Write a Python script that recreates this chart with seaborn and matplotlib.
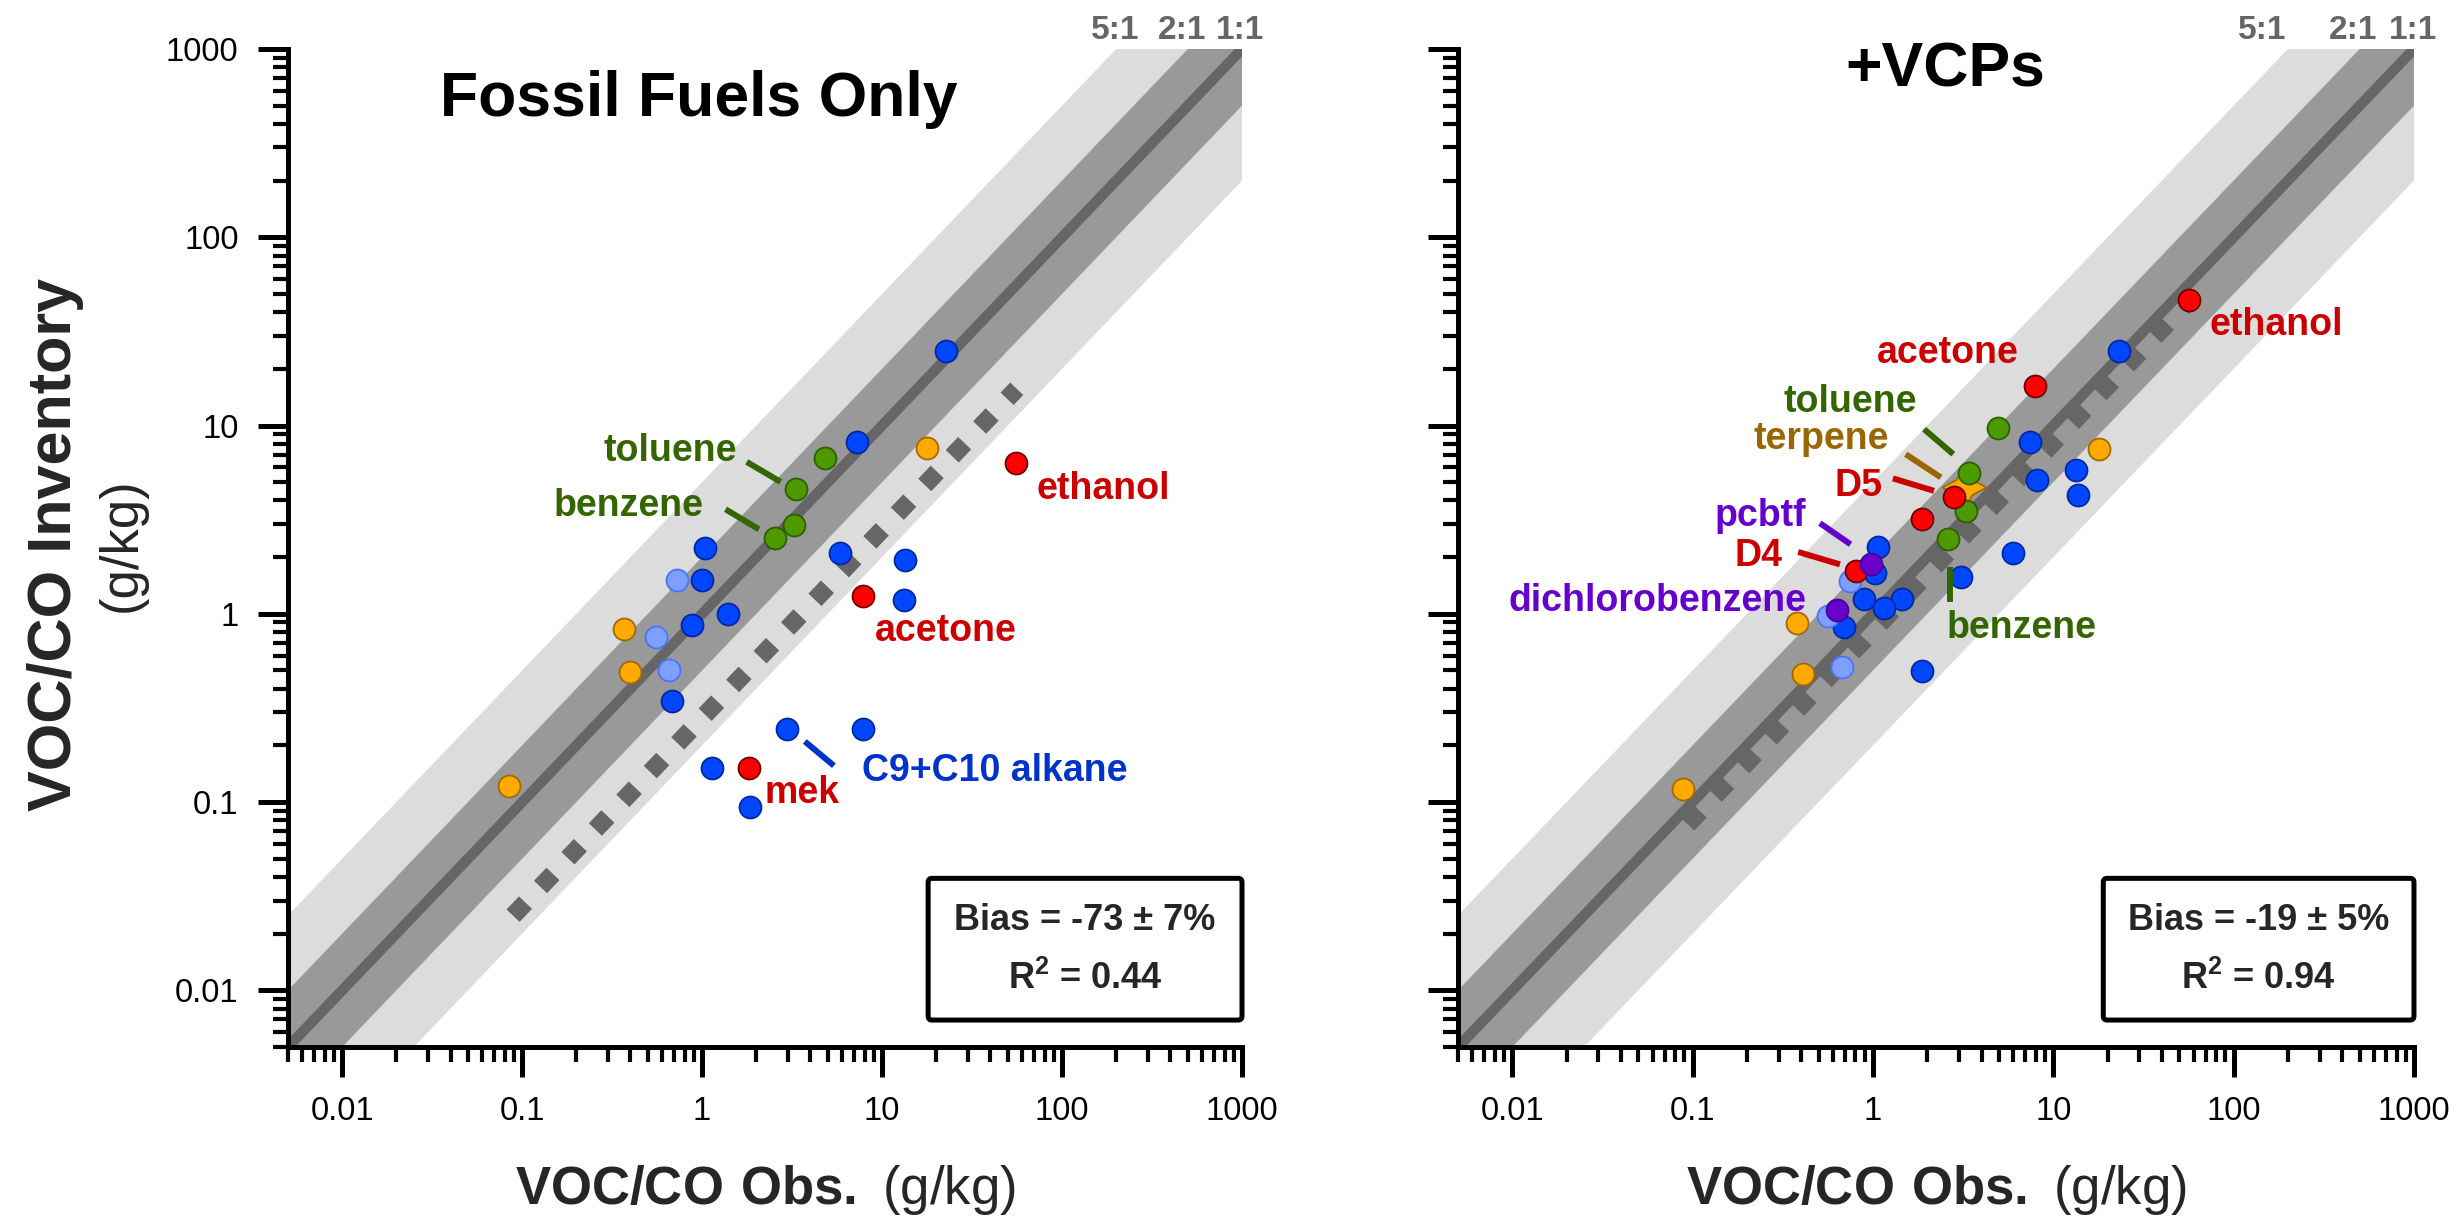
import numpy as np
import pandas as pd
import matplotlib
matplotlib.use("Agg")
import matplotlib.pyplot as plt
import seaborn as sns
from matplotlib.patches import FancyBboxPatch
from matplotlib.ticker import FixedLocator, FixedFormatter, NullFormatter, LogLocator

# ---------------- data: Fossil Fuels Only ----------------
ff_blue_obs = [22.8, 7.27, 1.04, 5.83, 13.4, 0.994, 13.2, 1.40, 0.875, 0.676, 2.98, 7.85, 1.13, 1.84]
ff_blue_inv = [24.9, 8.22, 2.23, 2.10, 1.93, 1.51, 1.18, 0.993, 0.867, 0.343, 0.243, 0.243, 0.152, 0.094]
ff_ltblue_obs = [0.728, 0.553, 0.651]
ff_ltblue_inv = [1.51, 0.755, 0.50]
ff_orange_obs = [17.7, 0.369, 0.397, 0.085]
ff_orange_inv = [7.64, 0.826, 0.49, 0.122]
ff_green_obs = [4.81, 3.32, 3.24, 2.54]
ff_green_inv = [6.71, 4.59, 2.95, 2.54]
ff_red_obs = [55.4, 7.8, 1.82]
ff_red_inv = [6.31, 1.24, 0.152]
ff_fit_slope = 0.28
ff_fit_obs = [0.089, 56.0]

# ---------------- data: +VCPs ----------------
vcp_blue_obs = [23.2, 7.41, 13.4, 13.7, 8.07, 5.94, 1.07, 1.03, 3.07, 0.894, 1.44, 1.15, 0.69, 1.88]
vcp_blue_inv = [24.8, 8.13, 5.82, 4.28, 5.14, 2.11, 2.25, 1.65, 1.57, 1.20, 1.20, 1.07, 0.854, 0.496]
vcp_ltblue_obs = [0.75, 0.565, 0.67]
vcp_ltblue_inv = [1.49, 0.973, 0.521]
vcp_orange_obs = [17.9, 0.377, 0.407, 0.088]
vcp_orange_inv = [7.55, 0.897, 0.48, 0.118]
vcp_green_obs = [4.94, 3.40, 3.30, 2.61]
vcp_green_inv = [9.66, 5.63, 3.52, 2.51]
vcp_red_obs = [56.4, 7.96, 2.81, 1.86, 0.81]
vcp_red_inv = [46.5, 16.3, 4.18, 3.20, 1.69]
vcp_purple_obs = [0.973, 0.628]
vcp_purple_inv = [1.84, 1.05]
vcp_terpene_obs = [3.19]
vcp_terpene_inv = [4.69]
vcp_fit_slope = 0.81
vcp_fit_obs = [0.094, 56.0]

tick_vals = [0.01, 0.1, 1, 10, 100, 1000]
tick_labels = ["0.01", "0.1", "1", "10", "100", "1000"]
ratio_labels = ["5:1", "2:1", "1:1"]

ff_bias = "Bias = -73 \u00b1 7%"
ff_r2 = "0.44"
vcp_bias = "Bias = -19 \u00b1 5%"
vcp_r2 = "0.94"

# ---------------- styles ----------------
fills = {"blue": "#0047ff", "ltblue": "#7f9fff", "orange": "#ffaa00",
         "green": "#4c9a00", "red": "#ff0000", "purple": "#6a00cc", "terpene": "#ffaa00"}
edges = {"blue": "#0028a0", "ltblue": "#4a74ff", "orange": "#a06a00",
         "green": "#2d5e00", "red": "#700000", "purple": "#4a0099", "terpene": "#a06a00"}
C_GREEN = "#336600"
C_RED = "#cc0000"
C_BLUE = "#0033cc"
C_PURPLE = "#6600cc"
C_BROWN = "#996600"

sns.set_theme(style="white")
plt.rcParams["font.family"] = ["Liberation Sans", "DejaVu Sans"]
plt.rcParams["mathtext.fontset"] = "custom"
plt.rcParams["mathtext.rm"] = "Liberation Sans"
plt.rcParams["mathtext.bf"] = "Liberation Sans:bold"
plt.rcParams["axes.edgecolor"] = "black"


def make_df(groups):
    rows = []
    for name, xs, ys in groups:
        for x, y in zip(xs, ys):
            rows.append({"obs": x, "inv": y, "group": name})
    return pd.DataFrame(rows)


ff_df = make_df([("blue", ff_blue_obs, ff_blue_inv), ("ltblue", ff_ltblue_obs, ff_ltblue_inv),
                 ("orange", ff_orange_obs, ff_orange_inv), ("green", ff_green_obs, ff_green_inv),
                 ("red", ff_red_obs, ff_red_inv)])
vcp_df = make_df([("blue", vcp_blue_obs, vcp_blue_inv), ("ltblue", vcp_ltblue_obs, vcp_ltblue_inv),
                  ("orange", vcp_orange_obs, vcp_orange_inv), ("green", vcp_green_obs, vcp_green_inv),
                  ("red", vcp_red_obs, vcp_red_inv), ("purple", vcp_purple_obs, vcp_purple_inv),
                  ("terpene", vcp_terpene_obs, vcp_terpene_inv)])

fig = plt.figure(figsize=(24.58, 12.19), dpi=100)
ax1 = fig.add_axes([0.11717, 0.14110, 0.38812, 0.81870])
ax2 = fig.add_axes([0.59316, 0.14110, 0.38893, 0.81870])


def draw_panel(ax, df, slope, fit_obs, show_ylabels):
    ax.set_xscale("log")
    ax.set_yscale("log")
    xs = np.array([1e-4, 1e4])
    ax.fill_between(xs, xs / 5, xs * 5, color="#dcdcdc", lw=0, zorder=1)
    ax.fill_between(xs, xs / 2, xs * 2, color="#999999", lw=0, zorder=2)
    ax.plot(xs, xs, color="#666666", lw=7.5, zorder=3, solid_capstyle="round")
    fx = np.array(fit_obs)
    ax.plot(fx, slope * fx, color="#666666", lw=13, dashes=(1.0, 1.2),
            dash_capstyle="butt", zorder=4)
    for g in ["blue", "ltblue", "orange", "green", "red", "purple"]:
        sub = df[df["group"] == g]
        if len(sub) == 0:
            continue
        sns.scatterplot(data=sub, x="obs", y="inv", color=fills[g], edgecolor=edges[g],
                        s=250, linewidth=1.3, ax=ax, zorder=6, legend=False)
    sub = df[df["group"] == "terpene"]
    if len(sub):
        sns.scatterplot(data=sub, x="obs", y="inv", color=fills["terpene"], edgecolor=edges["terpene"],
                        s=1000, linewidth=1.3, marker=(4, 1, 0), ax=ax, zorder=5, legend=False)
    ax.set_xlim(0.005, 1000)
    ax.set_ylim(0.005, 1000)
    ax.set_xlabel("")
    ax.set_ylabel("")
    for s in ["top", "right"]:
        ax.spines[s].set_visible(False)
    for s in ["left", "bottom"]:
        ax.spines[s].set_linewidth(3.6)
        ax.spines[s].set_color("black")
        ax.spines[s].set_zorder(10)
    for axis in [ax.xaxis, ax.yaxis]:
        axis.set_major_locator(FixedLocator(tick_vals))
        axis.set_major_formatter(FixedFormatter(tick_labels))
        axis.set_minor_locator(LogLocator(base=10, subs=np.arange(2, 10), numticks=20))
        axis.set_minor_formatter(NullFormatter())
    ax.tick_params(which="major", direction="out", length=21.6, width=3.6, color="black",
                   labelsize=23.5, bottom=True, left=True, labelcolor="black")
    ax.tick_params(which="minor", direction="out", length=10.8, width=3.0, color="black",
                   bottom=True, left=True)
    ax.tick_params(axis="x", which="major", pad=14)
    ax.tick_params(axis="y", which="major", pad=14, labelleft=show_ylabels)
    ax.set_facecolor("white")
    ax.text(0.5, -0.143, r"$\mathbf{VOC/CO\ Obs.}$ (g/kg)", transform=ax.transAxes,
            ha="center", va="center", fontsize=38)


draw_panel(ax1, ff_df, ff_fit_slope, ff_fit_obs, True)
draw_panel(ax2, vcp_df, vcp_fit_slope, vcp_fit_obs, False)

# titles
ax1.text(0.431, 0.949, "Fossil Fuels Only", transform=ax1.transAxes, ha="center", va="center",
         fontsize=45, fontweight="bold", color="black")
ax2.text(0.510, 0.979, "+VCPs", transform=ax2.transAxes, ha="center", va="center",
         fontsize=45, fontweight="bold", color="black")

# ratio labels above the bands
for ax, xpos in [(ax1, [196, 463, 973]), (ax2, [143, 457, 984])]:
    for lab, xp in zip(ratio_labels, xpos):
        ax.text(xp, 1256, lab, ha="center", va="center", fontsize=24, fontweight="bold",
                color="#666666", clip_on=False)

# bias boxes
for ax, x0, bias, r2 in [(ax1, 0.671, ff_bias, ff_r2), (ax2, 0.675, vcp_bias, vcp_r2)]:
    box = FancyBboxPatch((x0, 0.027), 1.0 - x0, 0.142, boxstyle="round,pad=0,rounding_size=0.004",
                         transform=ax.transAxes, facecolor="white", edgecolor="black",
                         lw=3.6, zorder=8, clip_on=False)
    ax.add_patch(box)
    xc = x0 + (1.0 - x0) / 2
    ax.text(xc, 0.127, bias, transform=ax.transAxes, ha="center", va="center",
            fontsize=26, fontweight="bold", zorder=9)
    ax.text(xc, 0.068, r"R$^{\mathbf{2}}$ = " + r2, transform=ax.transAxes, ha="center",
            va="center", fontsize=26, fontweight="bold", zorder=9)

# annotations (label, x, y, ha, color)
ff_labels = [("toluene", 1.56, 7.34, "right", C_GREEN),
             ("benzene", 1.02, 3.74, "right", C_GREEN),
             ("ethanol", 72, 4.62, "left", C_RED),
             ("acetone", 22.6, 0.809, "center", C_RED),
             ("C9+C10 alkane", 7.69, 0.146, "left", C_BLUE),
             ("mek", 2.23, 0.112, "left", C_RED)]
ff_leaders = [((1.77, 2.73), (6.41, 5.02), C_GREEN),
              ((1.35, 2.07), (3.59, 2.81), C_GREEN),
              ((3.72, 5.4), (0.21, 0.156), C_BLUE)]
vcp_labels = [("ethanol", 73.7, 34.2, "left", C_RED),
              ("acetone", 2.6, 24.3, "center", C_RED),
              ("toluene", 0.75, 13.3, "center", C_GREEN),
              ("terpene", 0.516, 8.47, "center", C_BROWN),
              ("D5", 0.836, 4.78, "center", C_RED),
              ("pcbtf", 0.236, 3.31, "center", C_PURPLE),
              ("D4", 0.233, 2.03, "center", C_RED),
              ("dichlorobenzene", 0.43, 1.17, "right", C_PURPLE),
              ("benzene", 2.56, 0.843, "left", C_GREEN)]
vcp_leaders = [((1.92, 2.79), (9.57, 7.04), C_GREEN),
               ((1.52, 2.38), (7.04, 5.3), C_BROWN),
               ((1.29, 2.18), (5.24, 4.5), C_RED),
               ((0.508, 0.751), (3.03, 2.34), C_PURPLE),
               ((0.385, 0.656), (2.13, 1.83), C_RED),
               ((2.69, 2.69), (1.78, 1.15), C_GREEN)]

for ax, labels, leaders in [(ax1, ff_labels, ff_leaders), (ax2, vcp_labels, vcp_leaders)]:
    for txt, x, y, ha, c in labels:
        ax.text(x, y, txt, ha=ha, va="center", fontsize=27, fontweight="bold", color=c, zorder=7)
    for lx, ly, c in leaders:
        ax.plot(lx, ly, color=c, lw=4.3, solid_capstyle="butt", zorder=7)

# y axis label
fig.text(0.0224, 0.553, "VOC/CO Inventory", rotation=90, ha="center", va="center",
         fontsize=44, fontweight="bold")
fig.text(0.0496, 0.553, "(g/kg)", rotation=90, ha="center", va="center", fontsize=38)

fig.savefig("out.png", dpi=100, facecolor="white")
